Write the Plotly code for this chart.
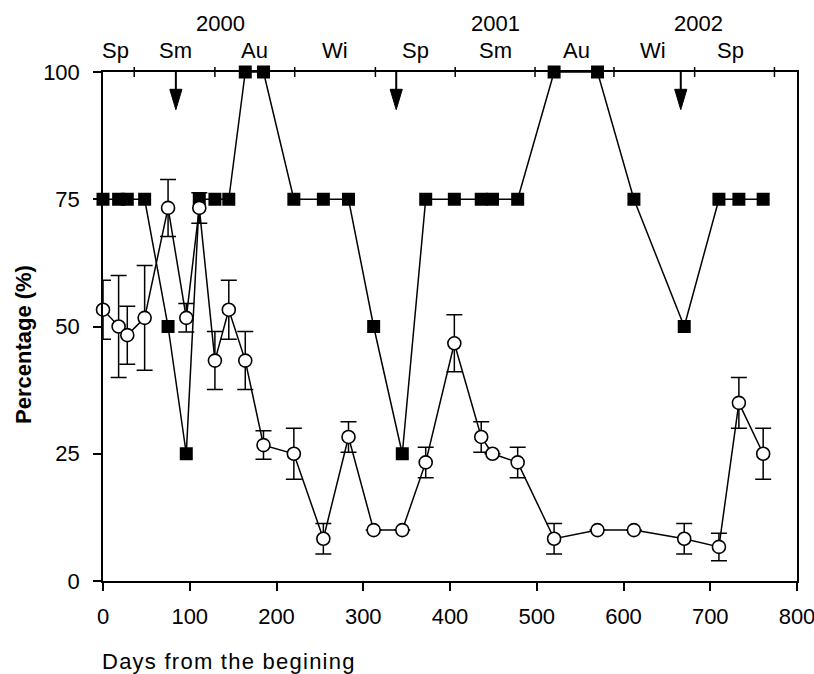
import plotly.graph_objects as go

# ---- data ----
days = [0, 18, 28, 48, 75, 96, 111, 129, 145, 164, 185, 220, 254, 283,
        312, 345, 372, 405, 436, 449, 478, 520, 570, 612, 670, 710, 733, 761]
pct_squares = [75, 75, 75, 75, 50, 25, 75, 75, 75, 100, 100, 75, 75, 75,
               50, 25, 75, 75, 75, 75, 75, 100, 100, 75, 50, 75, 75, 75]
pct_circles = [53.3, 50, 48.3, 51.7, 73.3, 51.7, 73.3, 43.3, 53.3, 43.3, 26.7, 25, 8.3, 28.3,
               10, 10, 23.3, 46.7, 28.3, 25, 23.3, 8.3, 10, 10, 8.3, 6.7, 35, 25]
err_circles = [5.8, 10, 5.7, 10.3, 5.6, 2.8, 3, 5.7, 5.8, 5.7, 2.8, 5, 3, 3,
               None, None, 3, 5.6, 3, None, 3, 3, None, None, 3, 2.7, 5, 5]

season_bounds = [36, 129, 221, 314, 406, 498, 589, 682, 774]
season_labels = ["Sp", "Sm", "Au", "Wi", "Sp", "Sm", "Au", "Wi", "Sp"]
season_label_days = [14, 83, 175, 267, 360, 452, 546, 634, 723]
year_labels = ["2000", "2001", "2002"]
year_label_days = [136, 452, 686]
arrow_days = [84, 338, 666]

x_ticks = [0, 100, 200, 300, 400, 500, 600, 700, 800]
y_ticks = [0, 25, 50, 75, 100]

FONT = "Liberation Sans, Arial, sans-serif"
FS = 22

fig = go.Figure()

fig.add_trace(go.Scatter(
    x=days, y=pct_squares, mode="lines+markers",
    line=dict(color="black", width=1.5),
    marker=dict(symbol="square", size=13, color="black"),
    cliponaxis=False, showlegend=False,
))

fig.add_trace(go.Scatter(
    x=days, y=pct_circles, mode="lines+markers",
    line=dict(color="black", width=1.5),
    marker=dict(symbol="circle", size=13, color="white",
                line=dict(color="black", width=1.6)),
    error_y=dict(type="data", array=err_circles, visible=True,
                 color="black", thickness=1.5, width=8),
    cliponaxis=False, showlegend=False,
))

shapes = []
# season boundary ticks crossing the top line
for b in season_bounds:
    shapes.append(dict(type="line", xref="x", yref="paper",
                       x0=b, x1=b, y0=1 - 5 / 509, y1=1 + 5 / 509,
                       line=dict(color="black", width=1.5)))
# arrows
for d in arrow_days:
    shapes.append(dict(type="line", xref="x", yref="y",
                       x0=d, x1=d, y0=100, y1=96.4,
                       line=dict(color="black", width=2)))
    shapes.append(dict(type="path", xref="x", yref="y",
                       path=f"M {d-7},96.6 L {d+7},96.6 L {d},92.6 Z",
                       fillcolor="black", line=dict(color="black", width=1)))

annotations = []
for lab, d in zip(season_labels, season_label_days):
    annotations.append(dict(x=d, y=1.042, xref="x", yref="paper", text=lab,
                            showarrow=False, xanchor="center", yanchor="middle",
                            font=dict(family=FONT, size=FS, color="black")))
for lab, d in zip(year_labels, year_label_days):
    annotations.append(dict(x=d, y=1.095, xref="x", yref="paper", text=lab,
                            showarrow=False, xanchor="center", yanchor="middle",
                            font=dict(family=FONT, size=FS, color="black")))
annotations.append(dict(x=0, y=-0.159, xref="paper", yref="paper",
                        text='<span style="letter-spacing:1.25px">Days from the begining</span>',
                        showarrow=False, xanchor="left", yanchor="middle", xshift=-3,
                        font=dict(family=FONT, size=FS, color="black")))
annotations.append(dict(x=-0.1153, y=0.4656, xref="paper", yref="paper",
                        text="<b>Percentage (%)</b>", textangle=-90,
                        showarrow=False, xanchor="center", yanchor="middle",
                        font=dict(family=FONT, size=FS, color="black")))

fig.update_layout(
    width=814, height=674,
    margin=dict(l=103, r=17, t=72, b=93, pad=0, autoexpand=False),
    paper_bgcolor="white", plot_bgcolor="white",
    shapes=shapes, annotations=annotations,
    font=dict(family=FONT, size=FS, color="black"),
)
fig.update_xaxes(
    range=[0, 800], tickvals=x_ticks, ticktext=[str(v) for v in x_ticks],
    showgrid=False, zeroline=False, showline=True, linecolor="black", linewidth=1.5,
    mirror=True, ticks="outside", ticklen=8, tickwidth=1.5, tickcolor="black",
    ticklabelstandoff=7, ticklabeloverflow="allow", automargin=False,
    tickfont=dict(family=FONT, size=FS, color="black"),
)
fig.update_yaxes(
    range=[0, 100], tickvals=y_ticks, ticktext=[str(v) for v in y_ticks],
    showgrid=False, zeroline=False, showline=True, linecolor="black", linewidth=1.5,
    mirror=True, ticks="outside", ticklen=8, tickwidth=1.5, tickcolor="black",
    ticklabelstandoff=9, automargin=False,
    tickfont=dict(family=FONT, size=FS, color="black"),
)

fig.write_html("out.html")
